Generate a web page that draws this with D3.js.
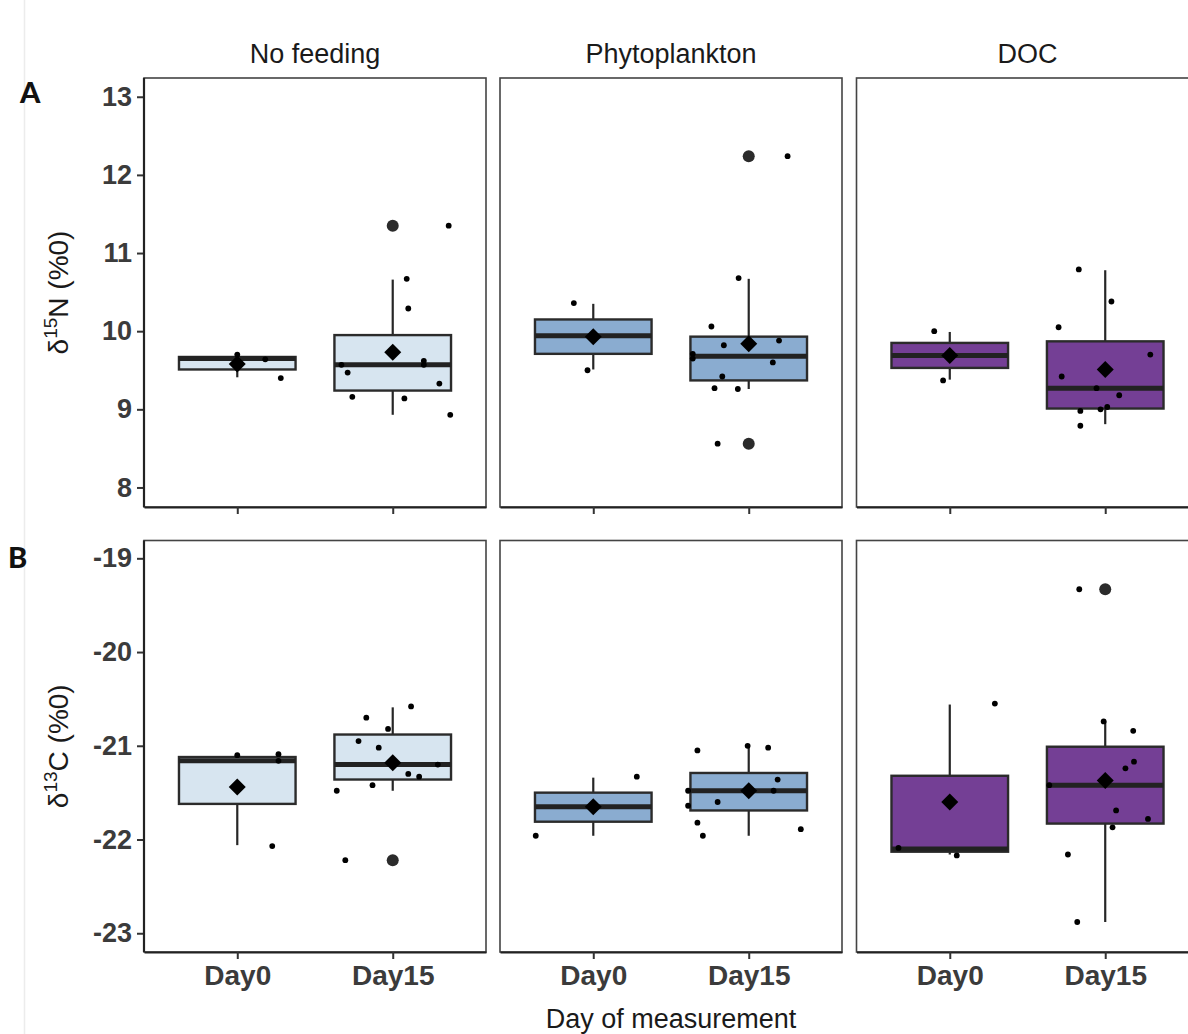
<!DOCTYPE html>
<html>
<head>
<meta charset="utf-8">
<script src="https://cdn.jsdelivr.net/npm/d3@7"></script>
<style>
  body { margin: 0; background: #fff; }
  svg { display: block; font-family: "Liberation Sans", Arial, sans-serif; }
</style>
</head>
<body>
<svg id="chart"></svg>
<script>
// facets and categories
const facets = ["No feeding", "Phytoplankton", "DOC"];
const days = ["Day0", "Day15"];

// box statistics, order: NF-Day0, NF-Day15, Phyto-Day0, Phyto-Day15, DOC-Day0, DOC-Day15
const n15WhiskLo = [9.41, 8.93, 9.51, 9.26, 9.38, 8.81];
const n15Q1      = [9.51, 9.24, 9.71, 9.37, 9.53, 9.01];
const n15Median  = [9.65, 9.57, 9.94, 9.68, 9.69, 9.27];
const n15Q3      = [9.67, 9.95, 10.15, 9.93, 9.85, 9.87];
const n15WhiskHi = [9.70, 10.66, 10.35, 10.67, 9.99, 10.78];
const n15Mean    = [9.58, 9.73, 9.93, 9.84, 9.69, 9.51];
const n15Outliers = [[1, 11.35], [3, 12.24], [3, 8.56]];

const c13WhiskLo = [-22.06, -21.48, -21.96, -21.96, -22.16, -22.88];
const c13Q1      = [-21.62, -21.36, -21.81, -21.69, -22.13, -21.83];
const c13Median  = [-21.16, -21.20, -21.65, -21.48, -22.10, -21.42];
const c13Q3      = [-21.12, -20.88, -21.50, -21.29, -21.32, -21.01];
const c13WhiskHi = [-21.10, -20.59, -21.34, -21.00, -20.56, -20.74];
const c13Mean    = [-21.44, -21.18, -21.65, -21.48, -21.60, -21.37];
const c13Outliers = [[1, -22.22], [5, -19.33]];

// raw jittered points: [group, jitter (category units), value]
const n15Points = [
  [0, 0.00, 9.70], [0, 0.18, 9.64], [0, 0.28, 9.40], [0, 0.00, 9.58],
  [1, 0.36, 11.35], [1, 0.09, 10.67], [1, 0.10, 10.29], [1, -0.33, 9.57], [1, -0.29, 9.47],
  [1, -0.26, 9.16], [1, 0.075, 9.14], [1, 0.20, 9.62], [1, 0.20, 9.57], [1, 0.30, 9.33], [1, 0.37, 8.93],
  [2, -0.125, 10.36], [2, -0.037, 9.50],
  [3, 0.25, 12.24], [3, -0.065, 10.68], [3, -0.24, 10.06], [3, -0.16, 9.82], [3, 0.195, 9.88],
  [3, -0.36, 9.71], [3, -0.36, 9.65], [3, 0.155, 9.60], [3, -0.17, 9.42], [3, -0.22, 9.27],
  [3, -0.07, 9.26], [3, -0.20, 8.56],
  [4, -0.10, 10.00], [4, -0.043, 9.37],
  [5, -0.17, 10.79], [5, 0.04, 10.38], [5, -0.30, 10.05], [5, 0.29, 9.70], [5, -0.28, 9.42],
  [5, -0.056, 9.27], [5, 0.09, 9.18], [5, -0.16, 8.98], [5, -0.03, 9.00], [5, 0.013, 9.03], [5, -0.16, 8.79]
];
const c13Points = [
  [0, 0.00, -21.10], [0, 0.265, -21.09], [0, 0.265, -21.16], [0, 0.225, -22.07],
  [1, 0.118, -20.58], [1, -0.17, -20.70], [1, -0.03, -20.82], [1, -0.22, -20.95], [1, -0.09, -21.02],
  [1, 0.29, -21.20], [1, 0.10, -21.30], [1, 0.17, -21.33], [1, -0.13, -21.42], [1, -0.36, -21.48], [1, -0.305, -22.22],
  [2, 0.28, -21.33], [2, -0.37, -21.96],
  [3, -0.007, -21.00], [3, 0.125, -21.02], [3, -0.33, -21.05], [3, 0.186, -21.36], [3, -0.39, -21.48],
  [3, 0.16, -21.48], [3, -0.20, -21.60], [3, -0.39, -21.64], [3, -0.33, -21.82], [3, -0.295, -21.96], [3, 0.335, -21.89],
  [4, 0.29, -20.55], [4, -0.33, -22.09], [4, 0.045, -22.17],
  [5, -0.167, -19.33], [5, -0.01, -20.74], [5, 0.18, -20.84], [5, 0.185, -21.17], [5, 0.13, -21.24],
  [5, -0.36, -21.42], [5, 0.07, -21.69], [5, 0.275, -21.78], [5, 0.047, -21.87], [5, -0.24, -22.16], [5, -0.18, -22.88]
];

const n15Ticks = [8, 9, 10, 11, 12, 13];
const c13Ticks = [-23, -22, -21, -20, -19];

const fills = ["#d7e5f0", "#8aacd0", "#743f95"];

const svgWidth = 1188, svgHeight = 1034;
const svg = d3.select("#chart").attr("width", svgWidth).attr("height", svgHeight);

// faint vertical line at the left
svg.append("line")
  .attr("x1", 24.5).attr("x2", 24.5).attr("y1", 0).attr("y2", svgHeight)
  .attr("stroke", "#ececec").attr("stroke-width", 1.5);

const panelLeft = [144, 500, 856.5], panelW = 342;

const rows = [
  {top: 78, bottom: 507, domain: [7.75, 13.24], ticks: n15Ticks,
   lo: n15WhiskLo, q1: n15Q1, med: n15Median, q3: n15Q3, hi: n15WhiskHi, mean: n15Mean,
   outliers: n15Outliers, points: n15Points, iso: "15", el: "N", tag: "A", xLabels: false},
  {top: 540.5, bottom: 952, domain: [-23.2, -18.81], ticks: c13Ticks,
   lo: c13WhiskLo, q1: c13Q1, med: c13Median, q3: c13Q3, hi: c13WhiskHi, mean: c13Mean,
   outliers: c13Outliers, points: c13Points, iso: "13", el: "C", tag: "B", xLabels: true}
];

const x = d3.scaleLinear().domain([0.4, 2.6]).range([0, panelW]);
const boxW = 0.75;

rows.forEach(function(row, ri) {
  const y = d3.scaleLinear().domain(row.domain).range([row.bottom, row.top]);

  facets.forEach(function(f, fi) {
    const g = svg.append("g").attr("transform", "translate(" + panelLeft[fi] + ",0)");

    // facet strip title
    if (ri == 0) {
      g.append("text")
        .attr("x", panelW / 2).attr("y", 63)
        .attr("text-anchor", "middle")
        .style("font-size", "27px").style("fill", "#1a1a1a")
        .text(f);
    }

    // panel border
    g.append("rect")
      .attr("x", 0).attr("y", row.top)
      .attr("width", panelW).attr("height", row.bottom - row.top)
      .attr("fill", "none").attr("stroke", "#444").attr("stroke-width", 1.6);

    // bottom axis
    const xa = g.append("g")
      .attr("transform", "translate(0," + row.bottom + ")")
      .call(d3.axisBottom(x).tickValues([1, 2]).tickSize(7).tickSizeOuter(0).tickPadding(6)
        .tickFormat(function(d) { return row.xLabels ? days[d - 1] : ""; }));
    xa.select(".domain").attr("stroke", "#222").attr("stroke-width", 2.2);
    xa.selectAll(".tick line").attr("stroke", "#333").attr("stroke-width", 2);
    xa.selectAll(".tick text")
      .style("font-size", "28px").style("font-weight", "bold").style("fill", "#3b3b3b");

    if (fi == 0) {
      const ya = g.append("g").call(d3.axisLeft(y).tickValues(row.ticks).tickSize(7).tickPadding(5)
        .tickFormat(function(d) { return String(d); }));
      ya.select(".domain").remove();
      ya.selectAll(".tick line").attr("stroke", "#333").attr("stroke-width", 2);
      ya.selectAll(".tick text")
        .style("font-size", "27px").style("font-weight", "bold").style("fill", "#3b3b3b");
      g.append("line")
        .attr("x1", 0).attr("x2", 0).attr("y1", row.top).attr("y2", row.bottom)
        .attr("stroke", "#222").attr("stroke-width", 2.2);
    }

    [0, 1].forEach(function(di) {
      const gi = fi * 2 + di;
      const cx = x(di + 1);
      const half = (x(di + 1 + boxW / 2) - x(di + 1 - boxW / 2)) / 2;

      // whiskers
      g.append("line")
        .attr("x1", cx).attr("x2", cx).attr("y1", y(row.q3[gi])).attr("y2", y(row.hi[gi]))
        .attr("stroke", "#262626").attr("stroke-width", 2.2);
      g.append("line")
        .attr("x1", cx).attr("x2", cx).attr("y1", y(row.q1[gi])).attr("y2", y(row.lo[gi]))
        .attr("stroke", "#262626").attr("stroke-width", 2.2);

      // box
      g.append("rect")
        .attr("x", cx - half).attr("y", y(row.q3[gi]))
        .attr("width", half * 2).attr("height", y(row.q1[gi]) - y(row.q3[gi]))
        .attr("fill", fills[fi]).attr("stroke", "#2b2b2b").attr("stroke-width", 2.4);

      // median
      g.append("line")
        .attr("x1", cx - half).attr("x2", cx + half)
        .attr("y1", y(row.med[gi])).attr("y2", y(row.med[gi]))
        .attr("stroke", "#222").attr("stroke-width", 5);
    });

    // outliers
    g.selectAll(".outlier")
      .data(row.outliers.filter(function(d) { return Math.floor(d[0] / 2) == fi; }))
      .enter().append("circle")
      .attr("cx", function(d) { return x(d[0] % 2 + 1); })
      .attr("cy", function(d) { return y(d[1]); })
      .attr("r", 6).attr("fill", "#2b2b2b");

    // mean diamonds
    [0, 1].forEach(function(di) {
      const gi = fi * 2 + di;
      const cx = x(di + 1), cy = y(row.mean[gi]);
      g.append("path")
        .attr("d", "M" + cx + "," + (cy - 8.5) + "L" + (cx + 8.5) + "," + cy + "L" + cx + "," + (cy + 8.5) + "L" + (cx - 8.5) + "," + cy + "Z")
        .attr("fill", "#000");
    });

    // jittered points
    g.selectAll(".pt")
      .data(row.points.filter(function(d) { return Math.floor(d[0] / 2) == fi; }))
      .enter().append("circle")
      .attr("cx", function(d) { return x(d[0] % 2 + 1 + d[1]); })
      .attr("cy", function(d) { return y(d[2]); })
      .attr("r", 2.9).attr("fill", "#000");
  });

  // y axis title
  const midY = (row.top + row.bottom) / 2;
  const t = svg.append("text")
    .attr("transform", "translate(68," + midY + ") rotate(-90)")
    .attr("text-anchor", "middle")
    .style("font-size", "28px").style("fill", "#1a1a1a");
  t.append("tspan").text("\u03b4");
  t.append("tspan").attr("dy", -11).style("font-size", "19px").text(row.iso);
  t.append("tspan").attr("dy", 11).text(row.el + " (%0)");

  // panel tag
  svg.append("text")
    .attr("x", ri == 0 ? 20 : 8).attr("y", ri == 0 ? 103 : 568)
    .style("font-family", "Lato, sans-serif").style("font-weight", 900)
    .style("font-size", "29px").style("fill", "#111")
    .text(row.tag);
});

// x axis title
svg.append("text")
  .attr("x", panelLeft[1] + panelW / 2).attr("y", 1028)
  .attr("text-anchor", "middle")
  .style("font-size", "27px").style("fill", "#1a1a1a")
  .text("Day of measurement");
</script>
</body>
</html>
